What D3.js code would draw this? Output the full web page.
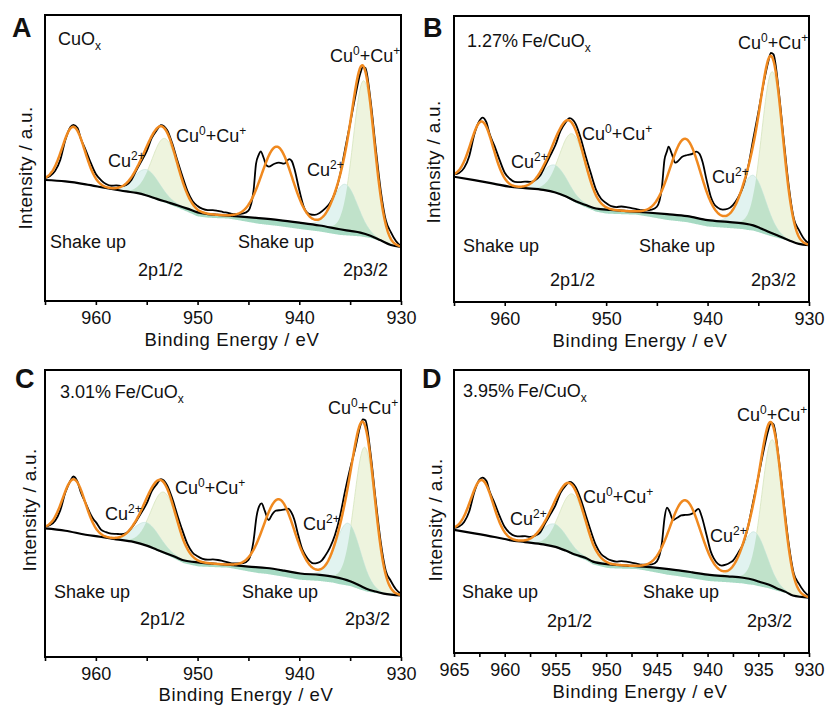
<!DOCTYPE html>
<html lang="en">
<head>
<meta charset="utf-8">
<title>Cu 2p XPS</title>
<script src="https://cdn.jsdelivr.net/npm/d3@7/dist/d3.min.js"></script>
<style>
  body { margin: 0; background: #fff; }
  text { font-family: "Liberation Sans", Arial, sans-serif; fill: #111; }
</style>
</head>
<body>
<div id="chart"></div>
<script>
// Shirley background, [binding energy, intensity (a.u.)]
var bgA = [[965,42.3],[963,41.8],[961,40.8],[959,39.5],[957,38.3],[956,37.8],[955,36.9],[954,35.7],[953,34.6],[952,33.5],[951,32.3],[950,31.0],[949,30.4],[948,30.1],[946,29.6],[944,29.0],[942,28.3],[940,27.4],[938,26.4],[936,25.1],[935,24.5],[934,23.9],[933,22.8],[932,21.2],[931,19.6],[930,18.9]];
var bgB = [[965,43.8],[963,42.6],[961,41.3],[959.5,40.3],[958,39.8],[956.2,39.2],[955,38.3],[954,37.0],[953,35.2],[952,33.9],[951,32.7],[949.6,32.2],[948,31.8],[946,31.3],[944,30.7],[942,30.0],[940,28.6],[938,28.0],[936.5,27.5],[935.5,26.8],[934.8,25.8],[934,24.6],[933.2,23.4],[932,21.6],[931,20.3],[930,19.9]];
var bgC = [[965,44.8],[963,44.0],[961,42.6],[959.6,41.9],[958,41.0],[956.3,40.1],[955,38.8],[954,37.4],[953,36.0],[952,34.6],[951.4,33.7],[949.8,32.9],[948,32.4],[946.5,32.0],[945,31.5],[943.2,31.0],[941.5,30.1],[939.9,29.1],[938,28.6],[936.6,27.9],[935,26.4],[934,24.8],[933.4,23.8],[932.5,22.8],[931.7,22.1],[930,21.5]];
var bgD = [[965,43.5],[963,42.3],[961,41.0],[959.5,39.9],[958,39.2],[956.2,38.4],[955,37.5],[954,36.2],[953,34.7],[952,33.6],[951.3,32.3],[949.6,31.3],[948,30.9],[946.3,30.5],[944.5,29.9],[943.1,29.3],[941.5,28.5],[939.8,27.6],[938,27.1],[936.5,26.6],[935.5,25.9],[934.9,25.2],[934,24.2],[933.2,22.9],[932.3,21.6],[931.6,20.3],[930,19.6]];

// measured spectra
var rawA = [[965.0,43.0],[964.5,43.7],[964.0,45.5],[963.5,49.3],[963.0,56.3],[962.5,60.8],[962.2,61.6],[961.8,60.5],[961.5,57.0],[961.0,52.8],[960.5,48.3],[960.0,44.4],[959.5,42.3],[959.0,40.9],[958.5,40.3],[958.0,40.4],[957.5,40.2],[957.0,40.6],[956.5,42.3],[956.0,45.8],[955.5,49.0],[955.0,52.4],[954.5,57.0],[954.0,59.8],[953.6,61.5],[953.0,59.8],[952.5,55.2],[952.0,49.3],[951.5,43.7],[951.0,38.5],[950.5,35.0],[950.0,33.2],[949.5,32.2],[949.0,31.8],[948.5,31.8],[948.0,31.5],[947.5,31.1],[947.0,30.8],[946.5,30.4],[946.0,30.4],[945.5,30.6],[945.0,31.6],[944.5,38.5],[944.25,48.0],[944.0,51.0],[943.8,52.3],[943.5,50.0],[943.25,47.5],[943.0,47.0],[942.5,47.9],[942.0,48.4],[941.5,48.0],[941.0,49.6],[940.75,49.0],[940.5,46.5],[940.0,38.8],[939.5,32.4],[939.0,30.4],[938.5,30.1],[938.0,30.8],[937.5,32.2],[937.0,34.2],[936.5,37.7],[936.0,44.0],[935.5,53.0],[935.0,62.1],[934.5,71.4],[934.0,79.6],[933.75,81.8],[933.5,81.5],[933.0,70.3],[932.5,54.0],[932.0,38.8],[931.5,28.3],[931.0,24.1],[930.5,21.0],[930.0,19.2]];
var rawB = [[965.0,44.6],[964.5,45.1],[964.0,46.9],[963.5,51.0],[963.0,58.6],[962.5,63.3],[962.2,64.5],[961.8,62.8],[961.5,58.9],[961.0,54.5],[960.5,49.6],[960.0,45.2],[959.5,43.1],[959.0,42.0],[958.5,41.9],[958.0,42.1],[957.5,42.0],[957.0,42.6],[956.5,44.2],[956.0,47.7],[955.5,51.3],[955.0,54.9],[954.5,59.8],[954.0,62.8],[953.6,64.3],[953.0,62.2],[952.5,57.2],[952.0,50.8],[951.5,44.9],[951.0,39.3],[950.5,36.1],[950.0,34.6],[949.5,33.5],[949.0,33.2],[948.5,33.4],[948.0,33.2],[947.5,32.8],[947.0,32.5],[946.5,32.1],[946.0,32.1],[945.5,32.3],[945.0,33.3],[944.5,40.2],[944.25,49.7],[944.0,52.7],[943.85,54.3],[943.5,51.5],[943.2,48.7],[943.0,49.0],[942.5,50.8],[942.0,51.4],[941.5,51.8],[941.1,52.6],[940.8,51.8],[940.5,49.0],[940.1,42.7],[939.7,37.0],[939.4,34.5],[939.0,33.0],[938.5,32.3],[938.0,32.6],[937.5,33.9],[937.0,36.5],[936.5,40.3],[936.0,47.2],[935.5,56.9],[935.0,66.2],[934.5,76.0],[934.0,84.3],[933.75,87.1],[933.5,86.6],[933.0,74.3],[932.5,57.0],[932.0,40.6],[931.5,29.2],[931.0,25.2],[930.5,22.1],[930.0,20.4]];
var rawC = [[965.0,45.4],[964.5,46.0],[964.0,47.5],[963.5,51.1],[963.0,57.3],[962.5,61.4],[962.2,62.9],[961.8,61.0],[961.5,57.6],[961.0,53.6],[960.5,49.6],[960.2,47.8],[960.0,47.0],[959.5,44.4],[959.0,43.5],[958.5,43.0],[958.0,42.9],[957.5,42.8],[957.0,43.2],[956.5,45.0],[956.0,47.5],[955.5,50.4],[955.0,53.5],[954.5,57.8],[954.0,60.3],[953.6,62.0],[953.0,59.9],[952.5,55.4],[952.0,49.6],[951.5,44.2],[951.0,39.4],[950.5,36.4],[950.0,35.1],[949.5,34.2],[949.0,33.9],[948.5,34.0],[948.0,33.8],[947.5,33.4],[947.0,33.0],[946.5,32.6],[946.0,32.6],[945.5,32.7],[945.0,33.8],[944.5,40.4],[944.2,49.0],[943.95,52.5],[943.7,53.5],[943.4,51.0],[943.0,47.7],[942.7,49.5],[942.3,51.0],[941.8,51.2],[941.4,51.4],[941.1,51.7],[940.8,50.5],[940.5,48.0],[940.1,42.4],[939.7,37.5],[939.4,35.5],[939.0,33.5],[938.6,32.6],[938.2,32.8],[937.8,33.6],[937.5,35.0],[937.0,38.0],[936.5,42.4],[936.0,49.0],[935.5,57.8],[935.0,65.7],[934.5,72.6],[934.0,80.6],[933.75,82.8],[933.5,82.5],[933.0,71.1],[932.5,55.0],[932.0,40.2],[931.5,30.1],[931.0,26.5],[930.5,23.6],[930.0,22.0]];
var rawD = [[965.0,44.2],[964.5,44.7],[964.0,46.3],[963.5,50.0],[963.0,56.8],[962.5,61.2],[962.2,62.0],[961.8,60.8],[961.5,57.2],[961.0,53.0],[960.5,48.4],[960.0,44.5],[959.5,42.4],[959.0,41.4],[958.5,41.2],[958.0,41.3],[957.5,41.0],[957.0,41.5],[956.5,42.6],[956.0,45.9],[955.5,49.0],[955.0,52.2],[954.5,56.6],[954.0,59.1],[953.6,60.5],[953.0,58.6],[952.5,54.3],[952.0,48.6],[951.5,43.0],[951.0,38.0],[950.5,35.0],[950.0,33.6],[949.5,32.7],[949.0,32.3],[948.5,32.5],[948.0,32.3],[947.5,31.9],[947.0,31.6],[946.5,31.2],[946.0,31.2],[945.5,31.3],[945.0,32.4],[944.5,38.9],[944.25,47.5],[944.0,51.4],[943.75,50.0],[943.4,47.0],[943.0,47.8],[942.6,48.6],[942.2,48.8],[941.8,48.9],[941.4,49.5],[940.9,50.9],[940.6,48.5],[940.1,41.7],[939.7,36.0],[939.4,33.5],[939.0,31.6],[938.6,30.9],[938.2,31.2],[937.8,31.9],[937.5,32.6],[937.0,35.3],[936.5,38.6],[936.0,44.8],[935.5,53.6],[935.0,62.1],[934.5,71.1],[934.0,78.9],[933.75,81.4],[933.5,80.8],[933.0,69.3],[932.5,53.6],[932.0,38.6],[931.5,28.1],[931.0,24.5],[930.5,21.8],[930.0,20.1]];

// fitted components: [centre eV, height, FWHM eV]
// order: satellite 2p1/2, Cu2+ 2p1/2, Cu0+Cu+ 2p1/2, satellite 2p3/2, Cu2+ 2p3/2, Cu0+Cu+ 2p3/2
var peaksA = [[962.2,19.5,2.6],[955.0,9.0,3.0],[953.2,22.0,3.0],[942.2,25.6,3.5],[935.5,16.0,2.8],[933.65,53.5,2.45]];
var peaksB = [[962.25,21.0,2.6],[955.1,9.5,3.0],[953.3,23.0,3.0],[942.2,27.0,3.5],[935.5,17.5,2.8],[933.6,56.5,2.45]];
var peaksC = [[962.15,18.5,2.6],[955.0,8.0,3.0],[953.3,21.0,3.0],[942.0,24.6,3.5],[935.2,20.0,2.8],[933.55,49.0,2.4]];
var peaksD = [[962.25,19.3,2.6],[955.1,8.0,3.0],[953.3,21.0,3.0],[942.2,25.1,3.5],[935.4,17.0,2.8],[933.6,51.8,2.45]];

// depth of the shaded band under the background
var bandDepth = [[957,0],[953,0.5],[950,1.4],[947,1.0],[944,2.0],[940,2.2],[936,2.0],[934,1.3],[932.5,0.5],[931.5,0]];

var letters = ["A", "B", "C", "D"];
var samples = ["CuO", "1.27%\u2009Fe/CuO", "3.01%\u2009Fe/CuO", "3.95%\u2009Fe/CuO"];

var panels = [
  {bg: bgA, raw: rawA, peaks: peaksA, left: 45, right: 401, top: 15, bottom: 301, tickStep: 5, labelStep: 10,
   letter: [12, 37], yTitle: [25, 168], xTitle: [232, 346],
   ann: {sample: [58, 45], top: [330, 62], mid: [176, 142], cu2L: [108, 167], cu2R: [307, 176],
         shakeL: [50, 248], shakeR: [238, 248], p12: [138, 276], p32: [343, 276]}},
  {bg: bgB, raw: rawB, peaks: peaksB, left: 454, right: 809, top: 16, bottom: 302, tickStep: 5, labelStep: 10,
   letter: [423, 37], yTitle: [433, 162], xTitle: [640, 347],
   ann: {sample: [467, 47], top: [738, 49], mid: [582, 140], cu2L: [511, 168], cu2R: [712, 183],
         shakeL: [463, 252], shakeR: [639, 252], p12: [550, 286], p32: [751, 286]}},
  {bg: bgC, raw: rawC, peaks: peaksC, left: 45, right: 401, top: 370, bottom: 657, tickStep: 5, labelStep: 10,
   letter: [15, 388], yTitle: [29, 510], xTitle: [246, 701],
   ann: {sample: [60, 398], top: [328, 414], mid: [175, 494], cu2L: [105, 520], cu2R: [303, 530],
         shakeL: [54, 598], shakeR: [242, 598], p12: [140, 625], p32: [345, 625]}},
  {bg: bgD, raw: rawD, peaks: peaksD, left: 454, right: 809, top: 370, bottom: 653, tickStep: 2.5, labelStep: 5,
   letter: [422, 388], yTitle: [435, 520], xTitle: [640, 698],
   ann: {sample: [463, 397], top: [737, 421], mid: [583, 503], cu2L: [510, 525], cu2R: [710, 542],
         shakeL: [462, 598], shakeR: [643, 598], p12: [547, 627], p32: [747, 627]}}
];

var W = 827, H = 707;
var svg = d3.select("#chart").append("svg").attr("width", W).attr("height", H);

var grid = d3.range(930, 965.0001, 0.05);

function gauss(E, p) {
  var t = (E - p[0]) / p[2];
  return p[1] * Math.exp(-4 * Math.LN2 * t * t);
}

function cuLabel(g, pos, sup) {
  var t = g.append("text").attr("x", pos[0]).attr("y", pos[1]).attr("font-size", 18);
  t.append("tspan").text("Cu");
  t.append("tspan").attr("dy", -7).attr("font-size", 12).text(sup);
  return t;
}

panels.forEach(function(p, i) {
  var g = svg.append("g");
  var x = d3.scaleLinear().domain([965, 930]).range([p.left, p.right]);
  var y = d3.scaleLinear().domain([0, 100]).range([p.bottom, p.top]);
  var bgAt = d3.scaleLinear().domain(p.bg.map(function(d) { return d[0]; })).range(p.bg.map(function(d) { return d[1]; }));
  var depthAt = d3.scaleLinear().domain(bandDepth.map(function(d) { return d[0]; }))
      .range(bandDepth.map(function(d) { return d[1]; })).clamp(true);

  var clipId = "clip" + i;
  g.append("clipPath").attr("id", clipId).append("rect")
    .attr("x", p.left).attr("y", p.top).attr("width", p.right - p.left).attr("height", p.bottom - p.top);
  var plot = g.append("g").attr("clip-path", "url(#" + clipId + ")");

  // band below the background
  var bandGrid = grid.filter(function(E) { return E >= 931.5 && E <= 957; });
  plot.append("path")
    .datum(bandGrid)
    .attr("fill", "#a6dac3")
    .attr("d", d3.area()
      .x(function(E) { return x(E); })
      .y0(function(E) { return y(bgAt(E) - depthAt(E)); })
      .y1(function(E) { return y(bgAt(E)); }));

  // filled components, Cu0+Cu+ then Cu2+, then their overlap
  [[1, 2], [4, 5]].forEach(function(pair) {
    var c2 = p.peaks[pair[0]], c0 = p.peaks[pair[1]];
    var lo = Math.min(c2[0] - 2.3 * c2[2], c0[0] - 2.3 * c0[2]);
    var hi = Math.max(c2[0] + 2.3 * c2[2], c0[0] + 2.3 * c0[2]);
    var sub = grid.filter(function(E) { return E >= lo && E <= hi; });
    function comp(pk, fill, stroke) {
      plot.append("path")
        .datum(sub)
        .attr("fill", fill)
        .attr("stroke", stroke)
        .attr("stroke-width", 0.8)
        .attr("d", d3.area()
          .x(function(E) { return x(E); })
          .y0(function(E) { return y(bgAt(E)); })
          .y1(function(E) { return y(bgAt(E) + gauss(E, pk)); }));
    }
    comp(c0, "#eef4de", "#d6e4bd");
    comp(c2, "#e1f3f0", "#c6e5dc");
    plot.append("path")
      .datum(sub)
      .attr("fill", "#c0e2ca")
      .attr("d", d3.area()
        .x(function(E) { return x(E); })
        .y0(function(E) { return y(bgAt(E)); })
        .y1(function(E) { return y(bgAt(E) + Math.min(gauss(E, c2), gauss(E, c0))); }));
  });

  // background line
  plot.append("path")
    .datum(p.bg)
    .attr("fill", "none")
    .attr("stroke", "#000")
    .attr("stroke-width", 2.2)
    .attr("d", d3.line()
      .x(function(d) { return x(d[0]); })
      .y(function(d) { return y(d[1]); })
      .curve(d3.curveMonotoneX));

  // raw spectrum
  plot.append("path")
    .datum(p.raw)
    .attr("fill", "none")
    .attr("stroke", "#000")
    .attr("stroke-width", 1.8)
    .attr("d", d3.line()
      .x(function(d) { return x(d[0]); })
      .y(function(d) { return y(d[1]); })
      .curve(d3.curveMonotoneX));

  // cumulative fit
  plot.append("path")
    .datum(grid)
    .attr("fill", "none")
    .attr("stroke", "#f0891f")
    .attr("stroke-width", 2.5)
    .attr("d", d3.line()
      .x(function(E) { return x(E); })
      .y(function(E) {
        return y(bgAt(E) + d3.sum(p.peaks, function(pk) { return gauss(E, pk); }));
      }));

  // frame
  g.append("rect")
    .attr("x", p.left).attr("y", p.top)
    .attr("width", p.right - p.left).attr("height", p.bottom - p.top)
    .attr("fill", "none").attr("stroke", "#000").attr("stroke-width", 2);

  // x axis
  var ticks = d3.range(965, 929.99, -p.tickStep);
  var ax = g.append("g")
    .attr("transform", "translate(0," + p.bottom + ")")
    .call(d3.axisBottom(x).tickValues(ticks).tickSize(4)
      .tickFormat(function(d) { return d % p.labelStep === 0 ? d : ""; }));
  ax.select(".domain").remove();
  ax.selectAll("line").attr("stroke-width", 1.6);
  ax.selectAll("text")
    .attr("y", 10)
    .attr("font-size", 18)
    .attr("font-family", "Liberation Sans, Arial, sans-serif")
    .attr("fill", "#111");

  g.append("text")
    .attr("x", p.xTitle[0]).attr("y", p.xTitle[1])
    .attr("text-anchor", "middle")
    .attr("font-size", 18.5)
    .attr("letter-spacing", 0.6)
    .text("Binding Energy / eV");

  g.append("text")
    .attr("transform", "translate(" + p.yTitle[0] + "," + p.yTitle[1] + ") rotate(-90)")
    .attr("text-anchor", "middle")
    .attr("dominant-baseline", "central")
    .attr("font-size", 19)
    .attr("letter-spacing", 0.3)
    .text("Intensity / a.u.");

  g.append("text")
    .attr("x", p.letter[0]).attr("y", p.letter[1])
    .attr("font-size", 27)
    .attr("font-weight", "bold")
    .text(letters[i]);

  // sample name with subscript x
  var s = g.append("text").attr("x", p.ann.sample[0]).attr("y", p.ann.sample[1]).attr("font-size", 18);
  s.append("tspan").text(samples[i]);
  s.append("tspan").attr("dy", 5).attr("font-size", 12).text("x");

  // peak labels
  [p.ann.top, p.ann.mid].forEach(function(pos) {
    var t = cuLabel(g, pos, "0");
    t.append("tspan").attr("dy", 7).text("+Cu");
    t.append("tspan").attr("dy", -7).attr("font-size", 12).text("+");
  });
  cuLabel(g, p.ann.cu2L, "2+");
  cuLabel(g, p.ann.cu2R, "2+");

  [[p.ann.shakeL, "Shake up"], [p.ann.shakeR, "Shake up"], [p.ann.p12, "2p1/2"], [p.ann.p32, "2p3/2"]]
    .forEach(function(a) {
      g.append("text").attr("x", a[0][0]).attr("y", a[0][1]).attr("font-size", 18).text(a[1]);
    });
});
</script>
</body>
</html>
